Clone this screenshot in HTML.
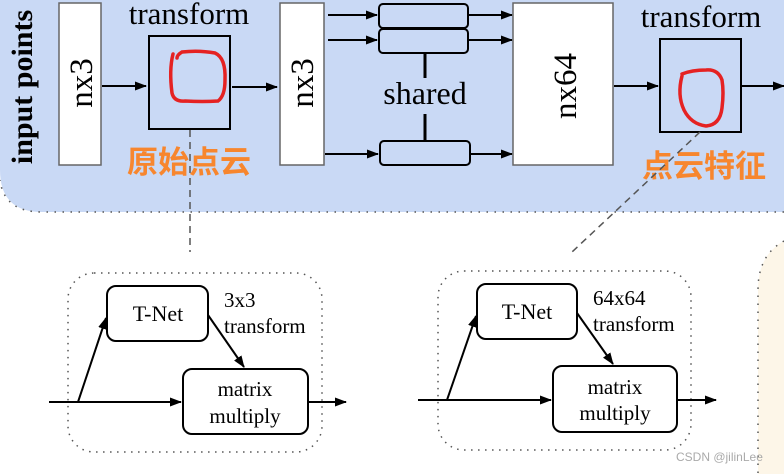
<!DOCTYPE html>
<html><head><meta charset="utf-8"><style>
html,body{margin:0;padding:0;background:#fff;}
svg{display:block;}
text{font-family:"Liberation Serif",serif;fill:#000;}
.cn{font-family:"Liberation Sans","Noto Sans CJK SC",sans-serif;font-weight:bold;fill:#f7862e;}
</style></head><body>
<svg width="784" height="474" viewBox="0 0 784 474" xmlns="http://www.w3.org/2000/svg">
<defs>
<marker id="a" markerWidth="12" markerHeight="9" refX="11" refY="4.5" orient="auto" markerUnits="userSpaceOnUse"><path d="M0,0 L12,4.5 L0,9 z" fill="#000"/></marker>
</defs>
<path d="M0,0 H784 V212 H42 Q0,212 0,170 Z" fill="#c9d9f5"/>
<path d="M784,212 H42 Q4,212 0,180" fill="none" stroke="#555" stroke-width="1.5" stroke-dasharray="1.5 6.5"/>
<path d="M784,241 Q758,255 758,290 V474 H784 Z" fill="#fdf6e8"/>
<path d="M784,241 Q758,255 758,290 V474" fill="none" stroke="#555" stroke-width="1.5" stroke-dasharray="1.5 6.5"/>

<text transform="translate(32,87) rotate(-90)" text-anchor="middle" font-size="30" font-weight="bold">input points</text>
<rect x="59" y="3" width="42" height="162" fill="#fff" stroke="#666" stroke-width="1.5"/>
<text transform="translate(92,83) rotate(-90)" text-anchor="middle" font-size="33">nx3</text>
<line x1="102" y1="86" x2="146" y2="86" stroke="#000" stroke-width="2" marker-end="url(#a)"/>
<text x="189" y="24" text-anchor="middle" font-size="31">transform</text>
<rect x="149" y="36" width="81" height="93" fill="#c9d9f5" stroke="#000" stroke-width="2"/>
<path d="M173,54 Q169,70 172,93 Q174,102 185,101 Q203,102 218,101 Q225,96 225,80 Q226,58 215,53 Q199,50 182,52 Q177,55 177,58" fill="none" stroke="#e52222" stroke-width="3.5" stroke-linecap="round"/>
<line x1="232" y1="87" x2="277" y2="87" stroke="#000" stroke-width="2" marker-end="url(#a)"/>
<rect x="280" y="3" width="44" height="162" fill="#fff" stroke="#666" stroke-width="1.5"/>
<text transform="translate(313,83) rotate(-90)" text-anchor="middle" font-size="33">nx3</text>
<g stroke="#000" stroke-width="2" marker-end="url(#a)">
<line x1="328" y1="15" x2="377" y2="15"/>
<line x1="328" y1="40" x2="377" y2="40"/>
<line x1="325" y1="154" x2="378" y2="154"/>
<line x1="469" y1="15" x2="512" y2="15"/>
<line x1="469" y1="40" x2="512" y2="40"/>
<line x1="471" y1="154" x2="512" y2="154"/>
<line x1="614" y1="86" x2="658" y2="86"/>
<line x1="742" y1="86" x2="784" y2="86"/>
</g>
<rect x="379" y="4" width="89" height="24" rx="4" fill="#c9d9f5" stroke="#000" stroke-width="2"/>
<rect x="379" y="29" width="89" height="24" rx="4" fill="#c9d9f5" stroke="#000" stroke-width="2"/>
<rect x="380" y="141" width="90" height="24" rx="4" fill="#c9d9f5" stroke="#000" stroke-width="2"/>
<line x1="425" y1="53" x2="425" y2="78" stroke="#000" stroke-width="3"/>
<line x1="425" y1="114" x2="425" y2="141" stroke="#000" stroke-width="3"/>
<text x="425" y="104" text-anchor="middle" font-size="32">shared</text>
<rect x="513" y="3" width="100" height="162" fill="#fff" stroke="#666" stroke-width="1.5"/>
<text transform="translate(576,86) rotate(-90)" text-anchor="middle" font-size="33">nx64</text>
<text x="701" y="27" text-anchor="middle" font-size="31">transform</text>
<rect x="660" y="39" width="81" height="93" fill="#c9d9f5" stroke="#000" stroke-width="2"/>
<path d="M682,76 Q677,95 684,110 Q691,124 706,126 Q720,125 722,108 Q724,92 722,80 Q718,69 706,70 Q692,70 682,74" fill="none" stroke="#e52222" stroke-width="3.5" stroke-linecap="round"/>
<text x="127" y="173" class="cn" font-size="31">原始点云</text>
<text x="642" y="177" class="cn" font-size="31">点云特征</text>
<line x1="190" y1="130" x2="190" y2="252" stroke="#555" stroke-width="1.5" stroke-dasharray="7 5"/>
<line x1="700" y1="132" x2="572" y2="252" stroke="#555" stroke-width="1.5" stroke-dasharray="7 5"/>

<rect x="68" y="273" width="254" height="179" rx="26" fill="none" stroke="#555" stroke-width="1.5" stroke-dasharray="1.5 5.5"/>
<rect x="107" y="286" width="101" height="55" rx="9" fill="#fff" stroke="#000" stroke-width="2"/>
<text x="158" y="321" text-anchor="middle" font-size="22">T-Net</text>
<rect x="183" y="369" width="125" height="65" rx="9" fill="#fff" stroke="#000" stroke-width="2"/>
<text x="245" y="396" text-anchor="middle" font-size="21">matrix</text>
<text x="245" y="423" text-anchor="middle" font-size="21">multiply</text>
<text x="224" y="307" font-size="21">3x3</text>
<text x="224" y="333" font-size="21">transform</text>
<g stroke="#000" stroke-width="2" marker-end="url(#a)">
<line x1="49" y1="402" x2="181" y2="402"/>
<line x1="78" y1="402" x2="106" y2="318"/>
<line x1="208" y1="315" x2="244" y2="367"/>
<line x1="308" y1="402" x2="346" y2="402"/>
</g>

<rect x="438" y="271" width="253" height="179" rx="26" fill="none" stroke="#555" stroke-width="1.5" stroke-dasharray="1.5 5.5"/>
<rect x="477" y="284" width="100" height="55" rx="9" fill="#fff" stroke="#000" stroke-width="2"/>
<text x="527" y="319" text-anchor="middle" font-size="22">T-Net</text>
<rect x="553" y="366" width="124" height="66" rx="9" fill="#fff" stroke="#000" stroke-width="2"/>
<text x="615" y="394" text-anchor="middle" font-size="21">matrix</text>
<text x="615" y="420" text-anchor="middle" font-size="21">multiply</text>
<text x="593" y="305" font-size="21">64x64</text>
<text x="593" y="331" font-size="21">transform</text>
<g stroke="#000" stroke-width="2" marker-end="url(#a)">
<line x1="418" y1="400" x2="551" y2="400"/>
<line x1="447" y1="400" x2="476" y2="316"/>
<line x1="577" y1="313" x2="613" y2="364"/>
<line x1="677" y1="400" x2="716" y2="400"/>
</g>
<text x="676" y="461" font-size="12" style="font-family:'Liberation Sans',sans-serif;fill:#aaa">CSDN @jilinLee</text>
</svg>
</body></html>
